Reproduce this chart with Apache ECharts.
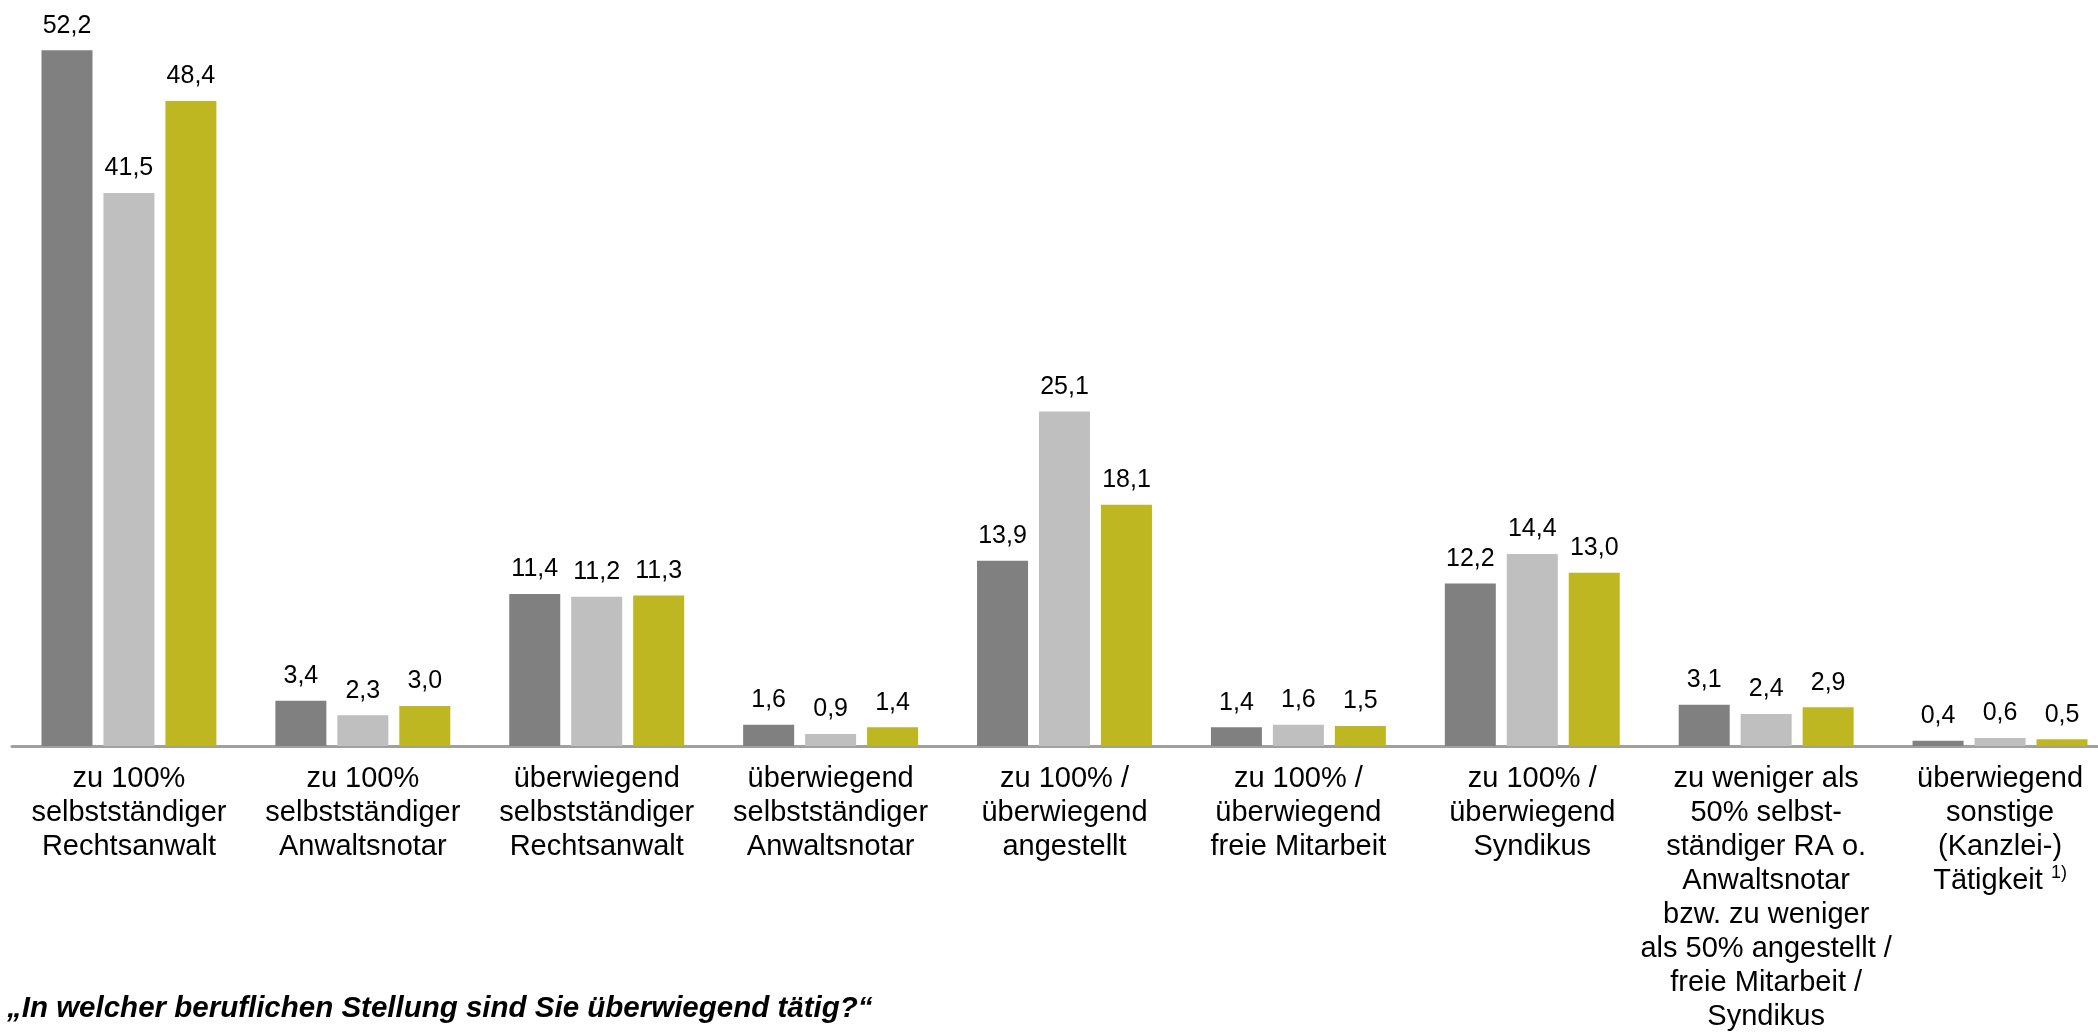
<!DOCTYPE html>
<html>
<head>
<meta charset="utf-8">
<script src="https://cdn.jsdelivr.net/npm/echarts@6/dist/echarts.min.js"></script>
<style>
  html, body { margin: 0; padding: 0; background: #fff; }
  #main { width: 2098px; height: 1032px; }
</style>
</head>
<body>
<div id="main"></div>
<script>
var categories = [
  'zu 100%\nselbstständiger\nRechtsanwalt',
  'zu 100%\nselbstständiger\nAnwaltsnotar',
  'überwiegend\nselbstständiger\nRechtsanwalt',
  'überwiegend\nselbstständiger\nAnwaltsnotar',
  'zu 100% /\nüberwiegend\nangestellt',
  'zu 100% /\nüberwiegend\nfreie Mitarbeit',
  'zu 100% /\nüberwiegend\nSyndikus',
  'zu weniger als\n50% selbst-\nständiger RA o.\nAnwaltsnotar\nbzw. zu weniger\nals 50% angestellt /\nfreie Mitarbeit /\nSyndikus',
  'überwiegend\nsonstige\n(Kanzlei-)\nTätigkeit 1)'
];
var seriesNames = ['Reihe 1', 'Reihe 2', 'Reihe 3'];
var values1 = [52.2, 3.4, 11.4, 1.6, 13.9, 1.4, 12.2, 3.1, 0.4];
var values2 = [41.5, 2.3, 11.2, 0.9, 25.1, 1.6, 14.4, 2.4, 0.6];
var values3 = [48.4, 3.0, 11.3, 1.4, 18.1, 1.5, 13.0, 2.9, 0.5];
var colors = ['#808080', '#BFBFBF', '#BFB722'];
var questionText = '\u201EIn welcher beruflichen Stellung sind Sie überwiegend tätig?\u201C';

var font = 'Arial, "Liberation Sans", sans-serif';
var chart = echarts.init(document.getElementById('main'));

function makeSeries(name, data, color) {
  return {
    name: name,
    type: 'bar',
    data: data,
    barWidth: 51,
    barGap: '21.5%',
    itemStyle: { color: color },
    label: {
      show: true,
      position: 'top',
      distance: 12,
      color: '#000',
      fontSize: 25,
      fontFamily: font,
      formatter: function (p) {
        return p.value.toFixed(1).replace('.', ',');
      }
    }
  };
}

var option = {
  backgroundColor: '#FFFFFF',
  animation: false,
  title: {
    text: questionText,
    left: 2,
    top: 989,
    textStyle: {
      fontSize: 29.5,
      fontWeight: 'bold',
      fontStyle: 'italic',
      color: '#000',
      fontFamily: font
    }
  },
  grid: {
    left: 12,
    width: 2105,   // Achse läuft rechts über den Rand hinaus
    top: 13,
    bottom: 286,
    outerBoundsMode: 'none'
  },
  xAxis: {
    type: 'category',
    data: categories,
    axisLine: { lineStyle: { color: '#A0A0A0', width: 3 } },
    axisTick: { show: false },
    axisLabel: {
      interval: 0,
      margin: 16,
      color: '#000',
      fontSize: 29,
      lineHeight: 34,
      fontFamily: font,
      formatter: function (v) {
        // Fußnote "1)" hochgestellt
        return v.replace(' 1)', ' {sup|1)}');
      },
      rich: {
        sup: {
          fontSize: 18,
          lineHeight: 34,
          verticalAlign: 'top',
          padding: [0, 0, 10, 0],
          color: '#000',
          fontFamily: font
        }
      }
    }
  },
  yAxis: {
    type: 'value',
    min: 0,
    max: 55,
    show: false,
    splitLine: { show: false }
  },
  series: [
    makeSeries(seriesNames[0], values1, colors[0]),
    makeSeries(seriesNames[1], values2, colors[1]),
    makeSeries(seriesNames[2], values3, colors[2])
  ]
};

chart.setOption(option);
</script>
</body>
</html>
